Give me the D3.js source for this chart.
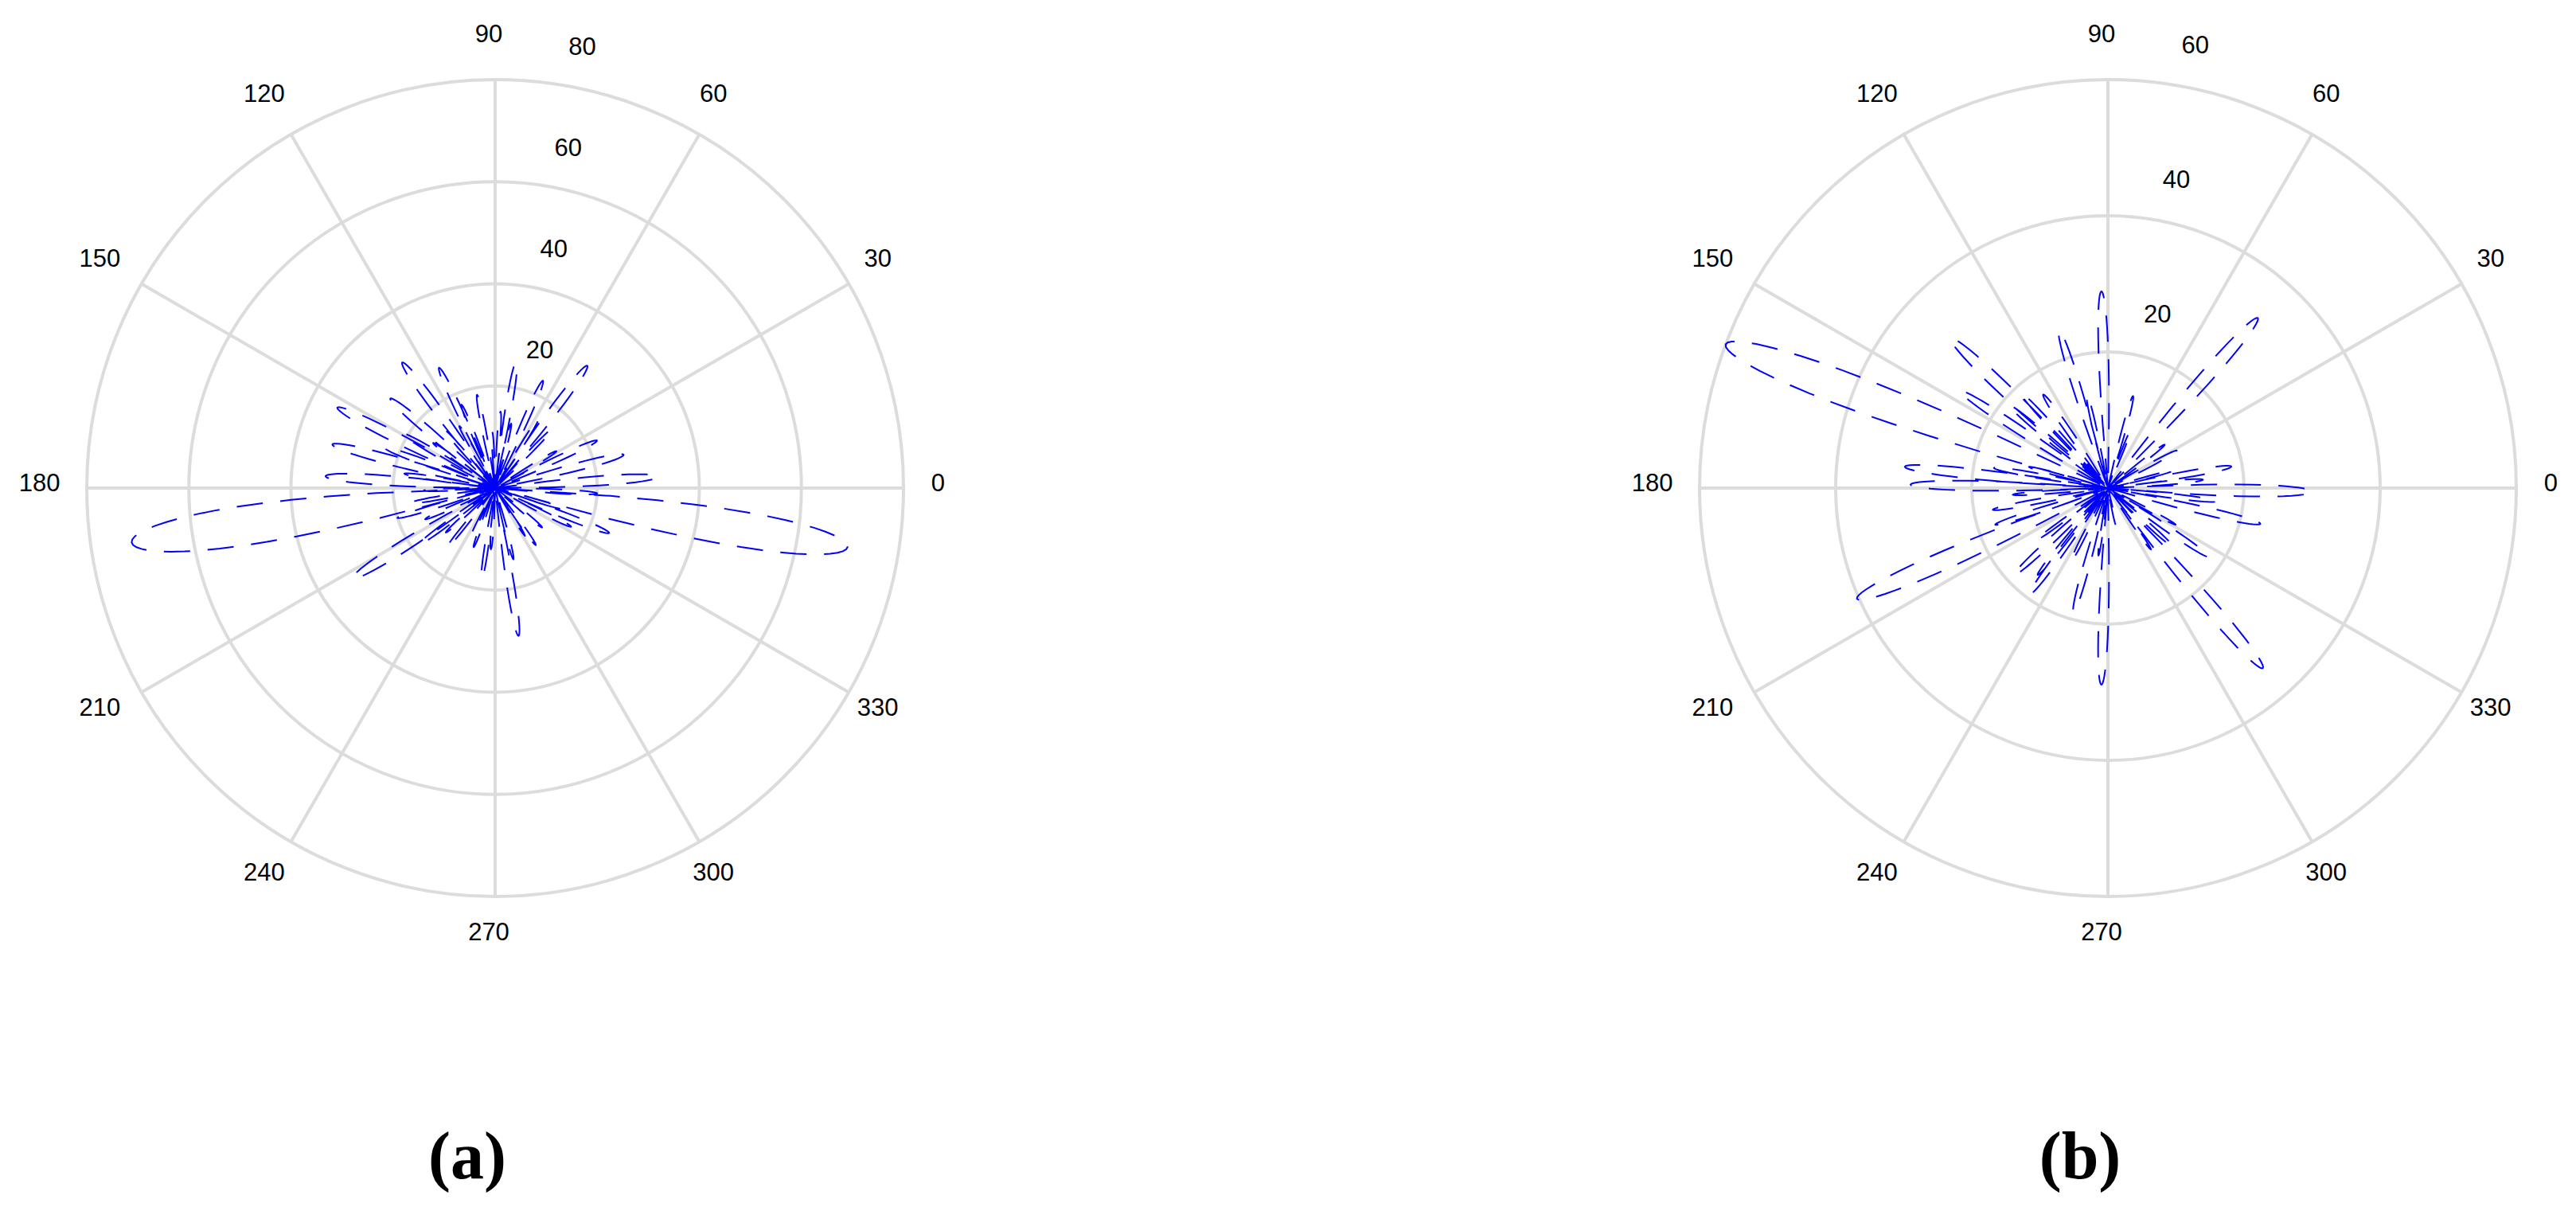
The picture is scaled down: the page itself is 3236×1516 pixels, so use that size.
<!DOCTYPE html>
<html>
<head>
<meta charset="utf-8">
<script src="https://cdn.jsdelivr.net/npm/d3@7"></script>
<style>
  body { margin: 0; background: #fff; }
  .grid { fill: none; stroke: #dcdcdc; stroke-width: 4; }
  .lbl { font-family: "Liberation Sans", Arial, sans-serif; font-size: 31px; fill: #000; }
  .cap { font-family: "Liberation Serif", "Times New Roman", serif; font-weight: bold; font-size: 84px; fill: #000; }
  .trace { fill: none; stroke: #0000ff; stroke-width: 2; stroke-dasharray: 33 22; }
</style>
</head>
<body>
<script>
// angle ticks (degrees) and radial ticks of the two polar plots
var angleTicks = [0, 30, 60, 90, 120, 150, 180, 210, 240, 270, 300, 330];
var radialTicksA = [20, 40, 60, 80];
var radialTicksB = [20, 40, 60];
var captions = ["(a)", "(b)"];

// plot (a): lobes -> direction (deg), peak value, angular width (deg)
var lobeAngleA = [4, 14.5, 25, 31, 46, 53, 58, 66, 76, 80.5, 86, 93, 101,
  112, 115, 120, 126.5, 131, 139.5, 144, 149.5, 153, 160, 165, 171, 176, 182, 188.5, 190,
  197, 204, 212.3, 216.5, 222, 231, 243, 250, 261.6, 266, 279, 284.4,
  302, 305.5, 320, 333, 338.5, 343, 350.5, 357];
var lobeValueA = [32, 26, 22, 14, 16, 30, 16, 23, 13, 25, 15, 11, 18.6,
  17.6, 26, 14, 30.6, 15, 27, 15, 21, 34.7, 23, 33, 18, 33.3, 14, 72, 17,
  20, 15, 33, 18.4, 13, 15, 10, 12.3, 18, 12, 29.3, 14.4,
  11, 13.7, 12, 16.7, 24, 14, 70, 20];
var lobeWidthA = [7, 7, 6, 5, 5, 7, 5, 6, 5, 6, 5, 4, 5,
  5, 6, 5, 7, 5, 7, 5, 6, 7, 6, 7, 5, 7, 4, 13, 5,
  5, 5, 8, 6, 5, 5, 4, 5, 5, 5, 6, 5,
  4, 5, 5, 5, 6, 5, 12, 5];

// plot (b)
var lobeAngleB = [5, 9.9, 15, 28.6, 37.4, 48.6, 68.6, 74.7, 91.9, 102.7, 107.2,
  124.7, 132.5, 136.4, 140, 146.7, 159.4, 165, 170, 174, 179, 184, 190.7, 198, 203.8, 216, 222.8, 231,
  233.7, 243.3, 254.5, 262, 268.1, 282, 305, 310.7, 318, 325.7, 331.6, 346.8, 353, 359];
var lobeValueB = [14, 18.4, 10, 11.5, 10.5, 33.3, 9, 14, 28.9, 14.1, 24.3,
  16.7, 19, 31.9, 19, 26, 60, 12, 17, 30, 29, 14, 17.2, 17.4, 40.3, 13, 18.8, 16.4,
  19.4, 12.1, 18.9, 10, 28.9, 5.5, 11, 34.9, 13, 17.9, 11.3, 23, 16, 30];
var lobeWidthB = [5, 6, 4, 5, 5, 7, 4, 5, 6, 5, 6,
  6, 5, 7, 5, 6, 10, 4, 5, 6, 6, 4, 5, 5, 8, 4, 6, 5,
  6, 5, 6, 4, 6, 4, 4, 7, 5, 6, 4, 6, 5, 7];

var W = 3236, H = 1516;
var svg = d3.select("body").append("svg")
  .attr("width", W).attr("height", H)
  .style("background", "#fff");

var R = 513;            // outer radius in px
var rad = Math.PI / 180;

function drawPolar(cx, cy, ticks, angles, values, widths, caption, capX) {
  var rMax = ticks[ticks.length - 1];
  var r = d3.scaleLinear().domain([0, rMax]).range([0, R]);
  var g = svg.append("g").attr("transform", "translate(" + cx + "," + cy + ")");

  // rings
  g.selectAll(".ring").data(ticks).enter().append("circle")
    .attr("class", "grid").attr("r", function(d){ return r(d); });

  // spokes (full diameters every 30 deg)
  g.selectAll(".spoke").data(angleTicks.slice(0, 6)).enter().append("line")
    .attr("class", "grid")
    .attr("x1", function(d){ return R * Math.cos(d * rad); })
    .attr("y1", function(d){ return -R * Math.sin(d * rad); })
    .attr("x2", function(d){ return -R * Math.cos(d * rad); })
    .attr("y2", function(d){ return R * Math.sin(d * rad); });

  // the trace: one continuous line, lobe after lobe (lobes sorted by angle)
  var order = d3.range(angles.length).sort(function(i, j){ return angles[i] - angles[j]; });
  var pts = [];
  order.forEach(function(i){
    var n = 30;
    for (var k = 0; k <= n; k++) {
      var u = k / n;
      pts.push({ t: angles[i] - widths[i] / 2 + u * widths[i], v: values[i] * Math.pow(Math.sin(Math.PI * u), 0.5) });
    }
  });
  var line = d3.lineRadial()
    .angle(function(d){ return (90 - d.t) * rad; })
    .radius(function(d){ return r(d.v); });
  g.append("path").attr("class", "trace").attr("d", line(pts));

  // angle labels
  g.selectAll(".alab").data(angleTicks).enter().append("text")
    .attr("class", "lbl").attr("text-anchor", "middle")
    .attr("x", function(d){ return 1.1 * R * Math.cos(d * rad) - 8; })
    .attr("y", function(d){ return -1.1 * R * Math.sin(d * rad) - 7 + 11; })
    .text(function(d){ return d; });

  // radial labels along 82 deg
  g.selectAll(".rlab").data(ticks).enter().append("text")
    .attr("class", "lbl").attr("text-anchor", "start")
    .attr("x", function(d){ return r(d + 1) * Math.cos(82 * rad) + 20; })
    .attr("y", function(d){ return -r(d + 1) * Math.sin(82 * rad) - 30; })
    .text(function(d){ return d; });

  svg.append("text").attr("class", "cap").attr("text-anchor", "middle")
    .attr("x", capX).attr("y", 1480).text(caption);
}

drawPolar(622, 613, radialTicksA, lobeAngleA, lobeValueA, lobeWidthA, captions[0], 587);
drawPolar(2648, 613, radialTicksB, lobeAngleB, lobeValueB, lobeWidthB, captions[1], 2613);
</script>
</body>
</html>
